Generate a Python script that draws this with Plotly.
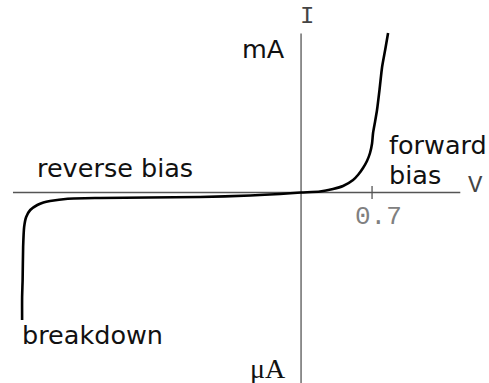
import plotly.graph_objects as go

# Diode I-V characteristic (schematic): voltage in volts, current in arbitrary units
voltage = [-2.75, -2.75, -2.745, -2.74, -2.73, -2.71, -2.67, -2.60, -2.54, -2.475,
           -2.30, -1.98, -1.50, -0.996, -0.50, -0.207, 0.0, 0.187, 0.315, 0.414,
           0.513, 0.565, 0.611, 0.650, 0.680, 0.700, 0.710, 0.730, 0.749, 0.775,
           0.799, 0.830, 0.858]
current = [-12.75, -10.5, -8.75, -5.45, -3.45, -2.45, -1.75, -1.25, -1.0, -0.85,
           -0.62, -0.55, -0.5, -0.45, -0.3, -0.15, 0.0, 0.1, 0.35, 0.65,
           1.25, 1.8, 2.45, 3.15, 3.95, 4.9, 5.95, 7.1, 8.25, 10.4,
           12.55, 14.3, 15.95]

x_axis_span = [-2.84, 1.57]
y_axis_span = [-19.1, 15.9]
tick_voltage = [0.7]
tick_labels = ["0.7"]

fig = go.Figure()

# Coordinate axes
fig.add_trace(go.Scatter(x=x_axis_span, y=[0, 0], mode="lines",
                         line=dict(color="#555555", width=1.3), hoverinfo="skip"))
fig.add_trace(go.Scatter(x=[0, 0], y=y_axis_span, mode="lines",
                         line=dict(color="#555555", width=1.3), hoverinfo="skip"))
# Tick mark at the forward threshold voltage
for v in tick_voltage:
    fig.add_trace(go.Scatter(x=[v, v], y=[0.65, -0.65], mode="lines",
                             line=dict(color="#555555", width=1.3), hoverinfo="skip"))

# Characteristic curve
fig.add_trace(go.Scatter(x=voltage, y=current, mode="lines",
                         line=dict(color="black", width=2.6, shape="spline", smoothing=0.6),
                         hoverinfo="skip"))

sans = dict(family="DejaVu Sans", size=25.5, color="#111111")

annotations = [
    dict(x=0.06, y=17.6, text="I", xanchor="center", yanchor="middle",
         font=dict(family="Liberation Mono", size=24, color="#444444")),
    dict(x=1.715, y=0.75, text="V", xanchor="center", yanchor="middle",
         font=dict(family="Liberation Mono", size=24, color="#444444")),
    dict(x=0.76, y=-2.45, text=tick_labels[0], xanchor="center", yanchor="middle",
         font=dict(family="Liberation Mono", size=26, color="#808080")),
    dict(x=-0.138, y=14.35, text="mA", xanchor="right", yanchor="middle", font=sans),
    dict(x=-0.128, y=-17.55, text="μA", xanchor="right", yanchor="middle",
         font=dict(family="Liberation Serif", size=28, color="#111111")),
    dict(x=-2.62, y=2.45, text="reverse bias", xanchor="left", yanchor="middle", font=sans),
    dict(x=0.848, y=4.75, text="forward", xanchor="left", yanchor="middle", font=sans),
    dict(x=0.848, y=1.75, text="bias", xanchor="left", yanchor="middle", font=sans),
    dict(x=-2.77, y=-14.25, text="breakdown", xanchor="left", yanchor="middle", font=sans),
]
for a in annotations:
    a.update(xref="x", yref="y", showarrow=False)

fig.update_layout(
    width=489, height=383, autosize=False,
    margin=dict(l=0, r=0, t=0, b=0, pad=0),
    paper_bgcolor="white", plot_bgcolor="white",
    showlegend=False,
    xaxis=dict(range=[-2.968, 1.853], visible=False, fixedrange=True),
    yaxis=dict(range=[-19.05, 19.25], visible=False, fixedrange=True),
    annotations=annotations,
)

fig.write_html("out.html")
